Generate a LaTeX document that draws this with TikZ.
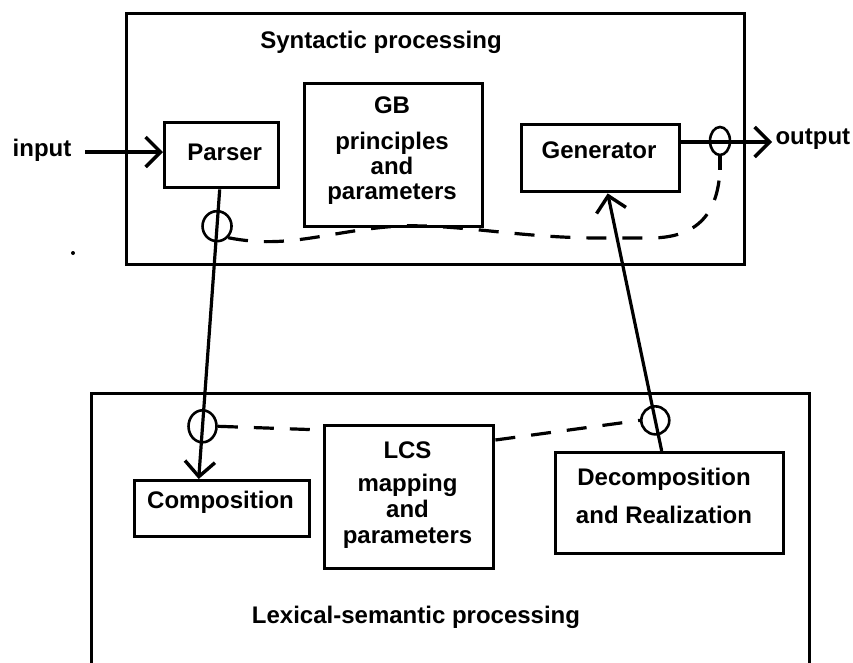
\documentclass[tikz,border=0pt]{standalone}
\usepackage{fontspec}
\setmainfont{Liberation Sans}
\usetikzlibrary{arrows.meta,calc,shapes.geometric}
\begin{document}
\begin{tikzpicture}[x=1pt,y=-1pt,
  every node/.style={font=\fontsize{24}{25}\selectfont\bfseries},
  frame/.style={draw,line width=3.4pt,inner sep=0pt,anchor=north west},
  unit/.style={draw,line width=3.4pt,inner sep=0pt,anchor=north west,align=center},
  link/.style={line width=3.2pt},
  tip/.style={-{Straight Barb[length=15pt,width=30pt,line width=3.4pt]}},
  flow/.style={line width=3.2pt,dash pattern=on 20pt off 16pt},
  tap/.style={draw,line width=2.6pt,ellipse,inner sep=0pt}
]
\useasboundingbox (0,0) rectangle (853,662);
\clip (0,0) rectangle (853,662);
\fill[white] (0,0) rectangle (853,662);

% the two processing stages
\node[frame,minimum width=618pt,minimum height=251pt] (syn) at (125,12) {};
\node[frame,minimum width=718pt,minimum height=320pt] (lex) at (90,392) {};
\node (syntitle) at (381,42) {Syntactic processing};
\node (lextitle) at (416,617) {Lexical-semantic processing};

% syntactic components
\node[unit,minimum width=114pt,minimum height=65pt] (parser) at (163,121) {};
\node at ($(parser.center)+(3,-3)$) {Parser};
\node[unit,minimum width=178pt,minimum height=143pt] (gb) at (303,82) {};
\node[align=center] at (392,105) {GB};
\node[align=center,font=\fontsize{24}{25}\selectfont\bfseries] at (392,168) {principles\\and\\parameters};
\node[unit,minimum width=158pt,minimum height=67pt] (gen) at (520,123) {};
\node at (599,150) {Generator};

% lexical-semantic components
\node[unit,minimum width=175pt,minimum height=56pt] (comp) at (133,479) {};
\node at (220.5,502) {Composition};
\node[unit,minimum width=169pt,minimum height=143pt] (lcs) at (323,424) {};
\node at (407.5,450) {LCS};
\node[align=center,font=\fontsize{24}{26}\selectfont\bfseries] at (407.5,511) {mapping\\and\\parameters};
\node[unit,minimum width=228pt,minimum height=101pt] (dec) at (554,451) {};
\node[align=center,font=\fontsize{24}{38}\selectfont\bfseries] at (664,496) {Decomposition\\and Realization};

% input and output
\node (in) at (42,150) {input};
\coordinate (instart) at (85,152);
\draw[link,tip] (instart) -- (parser.west |- instart);
\coordinate (outstart) at (gen.east |- 0,142);
\coordinate (outend) at (772,142);
\draw[link,tip] (outstart) -- (outend);
\node[anchor=west] (out) at (772,139) {output};

% parser down to composition
\coordinate (pa) at ($(parser.south)+(-2,0)$);
\coordinate (pb) at ($(comp.north)+(-23.5,0)$);
\draw[link,tip] (pa) -- (pb);
\node[tap,minimum width=29pt,minimum height=30pt] (c1) at ($(pa)!0.127!(pb)$) {};
\node[tap,minimum width=28pt,minimum height=32pt] (c2) at ($(pa)!0.818!(pb)$) {};

% decomposition up to generator
\coordinate (da) at ($(dec.north)+(-8,0)$);
\coordinate (db) at ($(gen.south)+(7,0)$);
\draw[link,tip] (da) -- (db);
\node[tap,minimum width=28pt,minimum height=28pt] (c3) at ($(da)!0.119!(db)$) {};

% tap on the output line
\node[tap,minimum width=20pt,minimum height=28pt] (c4) at (720,141) {};
\coordinate (c4stem) at (720,170);
\draw[link] (c4.south) -- (c4stem);

% feedback paths
\draw[flow] (c1.south east) .. controls (290,250) and (330,230) .. (400,226)
  .. controls (460,224) and (520,238) .. (600,238) -- (650,238)
  .. controls (705,238) and (718,205) .. (c4stem);
\draw[flow] (c2.east) -- (lcs.west |- 0,430);
\draw[flow] (lcs.east |- 0,440) -- (c3.west);

% stray mark
\fill (73,253) circle (2pt);
\end{tikzpicture}
\end{document}
